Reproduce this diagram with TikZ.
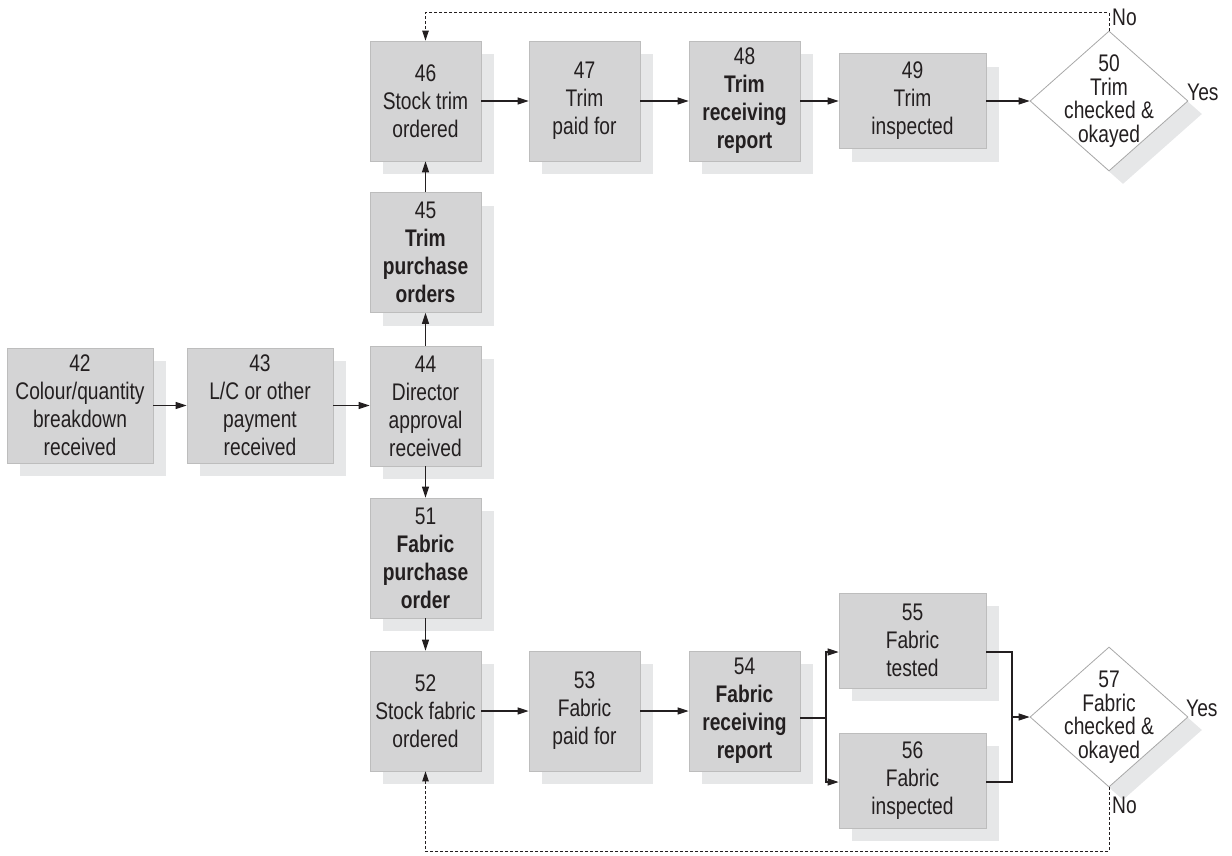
\documentclass[tikz,border=0pt]{standalone}
\usepackage{fontspec}
\setmainfont{Liberation Sans}[FakeStretch=0.8]
\usetikzlibrary{arrows.meta,shapes.geometric,shadows}
\definecolor{boxfill}{HTML}{D4D4D5}
\definecolor{boxline}{HTML}{BDBDBD}
\definecolor{shadowc}{HTML}{E6E7E8}
\definecolor{diamline}{HTML}{A8A8A8}
\definecolor{ink}{HTML}{231F20}
\begin{document}
\begin{tikzpicture}[x=1pt,y=-1pt,
  every node/.style={text=ink},
  procbox/.style={rectangle, fill=boxfill, draw=boxline, line width=0.8pt,
    inner sep=0pt, align=center, minimum width=111pt, minimum height=120pt,
    font=\fontsize{24}{28}\selectfont,
    drop shadow={shadow xshift=13pt, shadow yshift=-13pt, fill=shadowc, opacity=1}},
  widebox/.style={procbox, minimum width=147pt, minimum height=95pt},
  leftbox/.style={procbox, minimum width=146pt, minimum height=115pt},
  decision/.style={diamond, fill=white, draw=diamline, line width=0.8pt,
    inner sep=0pt, minimum width=158pt, minimum height=140pt,
    drop shadow={shadow xshift=14pt, shadow yshift=-13pt, fill=shadowc, opacity=1}},
  dtext/.style={align=center, inner sep=0pt, font=\fontsize{24}{23.5}\selectfont},
  lbl/.style={inner sep=0pt, anchor=west, font=\fontsize{24}{28}\selectfont},
  flow/.style={draw=ink, line width=1.1pt, -{Triangle[length=11pt,width=7pt]}},
  plain/.style={draw=ink, line width=1.1pt},
  back/.style={draw=ink, line width=1pt, dash pattern=on 3pt off 2pt,
    -{Triangle[length=10pt,width=6.5pt]}}
]
\useasboundingbox (0,0) rectangle (1232,855);

% order handling
\node[leftbox] (n42) at (80,405.5) {42\\Colour/quantity\\breakdown\\received};
\node[leftbox] (n43) at (260,405.5) {43\\L/C or other\\payment\\received};
\node[procbox] (n44) at (425.5,406) {44\\Director\\approval\\received};

% trim branch
\node[procbox] (n45) at (425.5,252.5) {45\\\textbf{Trim}\\\textbf{purchase}\\\textbf{orders}};
\node[procbox] (n46) at (425.5,101) {46\\Stock trim\\ordered};
\node[procbox] (n47) at (584.5,101) {47\\Trim\\paid for};
\node[procbox] (n48) at (744.5,101) {48\\\textbf{Trim}\\\textbf{receiving}\\\textbf{report}};
\node[widebox] (n49) at (912.5,101) {49\\Trim\\inspected};
\node[decision] (d50) at (1109,101) {};
\node[dtext] (t50) at (d50.center) {50\\Trim\\checked \&\\okayed};

% fabric branch
\node[procbox] (n51) at (425.5,558) {51\\\textbf{Fabric}\\\textbf{purchase}\\\textbf{order}};
\node[procbox] (n52) at (425.5,711) {52\\Stock fabric\\ordered};
\node[procbox] (n53) at (584.5,711) {53\\Fabric\\paid for};
\node[procbox] (n54) at (744.5,711) {54\\\textbf{Fabric}\\\textbf{receiving}\\\textbf{report}};
\node[widebox] (n55) at (912.5,640.5) {55\\Fabric\\tested};
\node[widebox] (n56) at (912.5,780.5) {56\\Fabric\\inspected};
\node[decision] (d57) at (1109,717) {};
\node[dtext] (t57) at (d57.center) {57\\Fabric\\checked \&\\okayed};

% outcome labels
\node[lbl] (no50) at (1112,17) {No};
\node[lbl] (yes50) at (1187,92) {Yes};
\node[lbl] (yes57) at (1186,708) {Yes};
\node[lbl] (no57) at (1112,805) {No};

% main flow
\draw[flow] (n42.east) -- (n43.west);
\draw[flow] (n43.east) -- (n44.west |- n43.east);
\draw[flow] (n44.north) -- (n45.south);
\draw[flow] (n45.north) -- (n46.south);
\draw[flow] (n46.east) -- (n47.west);
\draw[flow] (n47.east) -- (n48.west);
\draw[flow] (n48.east) -- (n49.west);
\draw[flow] (n49.east) -- (d50.west);
\draw[flow] (n44.south) -- (n51.north);
\draw[flow] (n51.south) -- (n52.north);
\draw[flow] (n52.east) -- (n53.west);
\draw[flow] (n53.east) -- (n54.west);

% split to testing and inspection
\coordinate (split) at (826,718);
\draw[plain] ([yshift=-7pt]n54.east) -- (split);
\draw[flow] (split) |- ([yshift=-11.5pt]n55.west);
\draw[flow] (split) |- ([yshift=-1.5pt]n56.west);

% merge into the fabric check
\coordinate (merge) at (1012,717);
\draw[plain] ([yshift=-11.5pt]n55.east) -| (merge);
\draw[plain] ([yshift=-1.5pt]n56.east) -| (merge);
\draw[flow] (merge) -- (d57.west);

% rejection loops
\draw[back] (d50.north) -- ++(0,-18) -| (n46.north);
\draw[back] (d57.south) -- ++(0,64) -| (n52.south);
\end{tikzpicture}
\end{document}
